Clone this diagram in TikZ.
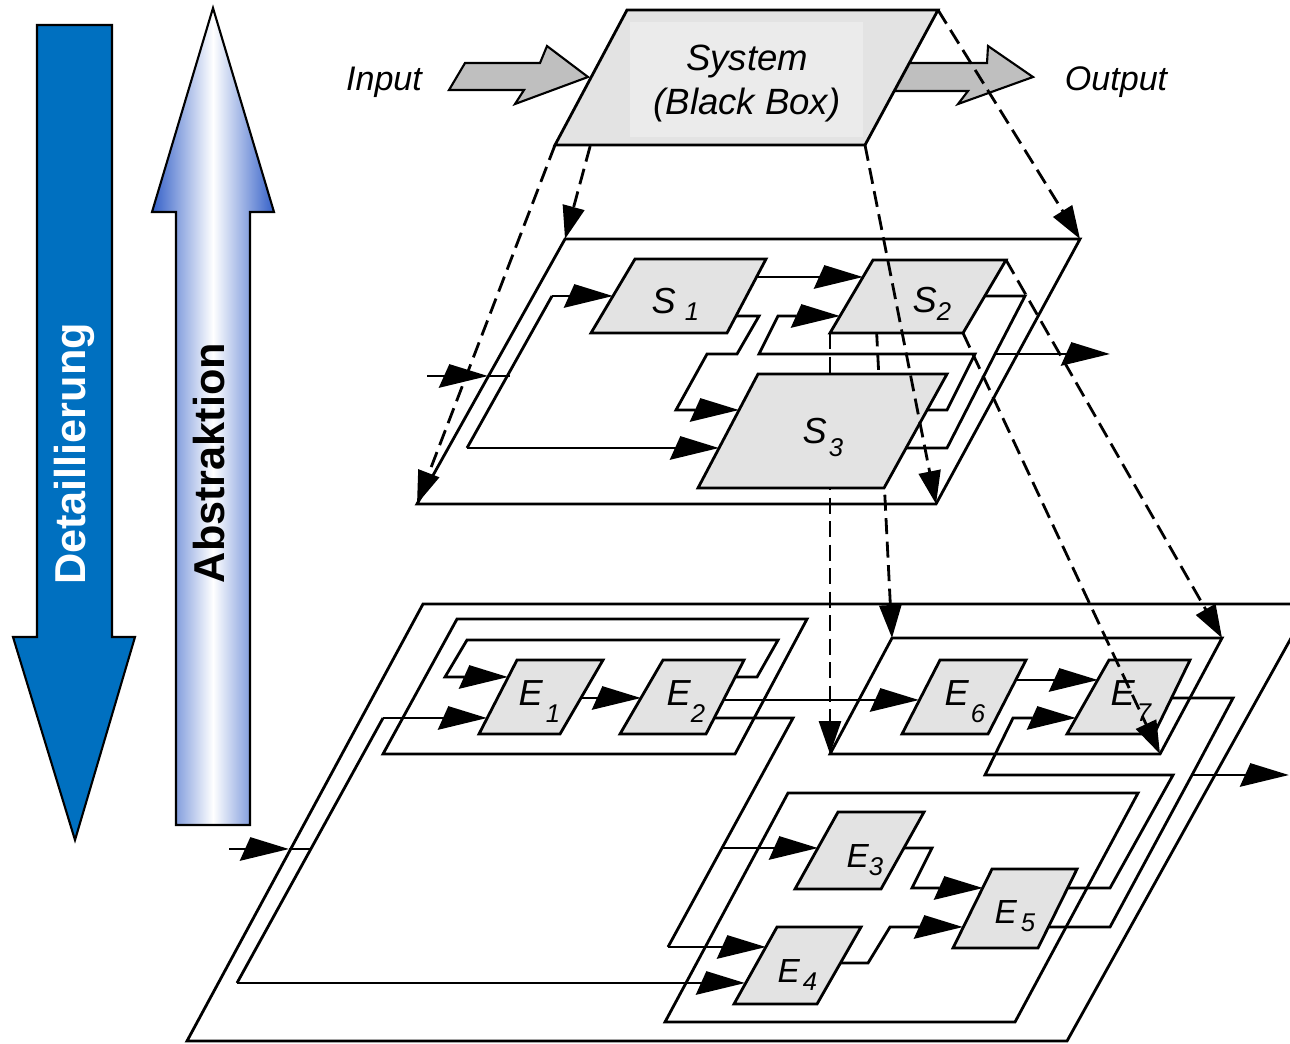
\documentclass[tikz,border=0pt]{standalone}
\usepackage{fontspec}
\setmainfont{Liberation Sans}
\usetikzlibrary{arrows.meta}

\definecolor{boxgray}{RGB}{227,227,227}
\definecolor{boxlight}{RGB}{235,235,235}
\definecolor{blockgray}{RGB}{191,191,191}
\definecolor{detblue}{RGB}{0,112,192}
\definecolor{absblue}{RGB}{52,96,200}

% letter with lowered index: letter, index, gap, drop
\newcommand{\blab}[4]{#1\hspace{#3}\raisebox{-#4}{\fontsize{7.3}{8}\selectfont #2}}

\tikzset{
  planeline/.style={draw, line width=0.8pt, line join=miter},
  blk/.style={draw, fill=boxgray, line width=0.8pt, line join=miter},
  wire/.style={line width=0.8pt, line join=miter},
  flow/.style={wire, -{Triangle[length=4.4mm,width=2.3mm,slant=0.45]}},
  proj/.style={line width=0.8pt, dash pattern=on 1.6mm off 0.75mm, -{Triangle[length=3.3mm,width=2.2mm]}},
  lbl/.style={inner sep=0pt, anchor=base west, font=\fontsize{10.3}{12}\selectfont\itshape},
  bigarrow/.style={draw, line width=0.6pt, line join=miter},
}

\begin{document}
\begin{tikzpicture}[x=0.1mm,y=-0.1mm]
\useasboundingbox (0,0) rectangle (1290,1043);

% Detaillierung / Abstraktion
\draw[bigarrow, fill=detblue] (37,25) -- (112,25) -- (112,637) -- (135,637) -- (75,840) -- (13,637) -- (37,637) -- cycle;
\node[rotate=90, text=white, font=\fontsize{12.3}{14}\selectfont\bfseries] (det) at (74,454) {Detaillierung};
\draw[bigarrow, left color=absblue, right color=absblue, middle color=white] (213,8) -- (274,212) -- (250,212) -- (250,825) -- (176,825) -- (176,212) -- (152,212) -- cycle;
\node[rotate=90, font=\fontsize{12.3}{14}\selectfont\bfseries] (abs) at (209,463) {Abstraktion};

% black box level
\draw[bigarrow, fill=blockgray] (465,63) -- (540,63) -- (547,46) -- (588,77) -- (515,104) -- (524,90) -- (449,90) -- cycle;
\draw[bigarrow, fill=blockgray] (905,63) -- (987,63) -- (988,46) -- (1033,77) -- (958,104) -- (968,91) -- (892,91) -- cycle;
\draw[proj] (627,10) -- (565,239);
\draw[blk] (627,10) -- (938,10) -- (865,145) -- (555,145) -- cycle;
\fill[boxlight] (630,22) rectangle (863,137);
\node[font=\fontsize{10.4}{12}\selectfont\itshape, anchor=base] (sysname) at (747,70) {System};
\node[font=\fontsize{10.4}{12}\selectfont\itshape, anchor=base] (bbox) at (747,114) {(Black Box)};
\node[font=\fontsize{9.7}{11}\selectfont\itshape, anchor=base] (inlbl) at (384,90) {Input};
\node[font=\fontsize{9.7}{11}\selectfont\itshape, anchor=base] (outlbl) at (1116,90) {Output};

% subsystem level
\draw[planeline] (565,239) -- (1080,239) -- (936,504) -- (417,504) -- cycle;
\coordinate (m-in) at (427,376);
\coordinate (m-edge) at (488,376);
\coordinate (m-j) at (510,376);
\coordinate (m-up) at (552,296);
\coordinate (m-dn) at (467,448);
\draw[flow] (m-in) -- (m-edge);
\draw[wire] (m-edge) -- (m-j);
\draw[wire] (m-up) -- (m-dn);
\draw[flow] (m-up) -- (613,296);
\draw[flow] (m-dn) -- (719,448);
\draw[flow] (756,277) -- (863,277);
\draw[flow] (736,316) -- (759,316) -- (737,354) -- (707,354) -- (676,410) -- (739,410);
\draw[flow] (927,410) -- (947,410) -- (975,354) -- (759,354) -- (778,316) -- (840,316);
\coordinate (m-out) at (995,354);
\draw[wire] (985,296) -- (1025,296) -- (m-out) -- (947,448) -- (906,448);
\draw[flow] (m-out) -- (1110,354);

\draw[proj] (873,260) -- (892,638);
\draw[proj] (830,333) -- (830,754);

\draw[blk] (635,259) -- (766,259) -- (727,333) -- (591,333) -- cycle;
\draw[blk] (873,260) -- (1006,260) -- (963,333) -- (830,333) -- cycle;
\draw[blk] (758,374) -- (947,374) -- (884,488) -- (698,488) -- cycle;
\node[lbl] (S1) at (651,313) {\blab{S}{1}{0.9mm}{0.7mm}};
\node[lbl] (S2) at (912,312) {\blab{S}{2}{0mm}{0.85mm}};
\node[lbl] (S3) at (802,443) {\blab{S}{3}{0.2mm}{1.35mm}};

\draw[proj] (555,145) -- (417,504);
\draw[proj] (938,10) -- (1080,239);
\draw[proj] (865,145) -- (936,504);
\draw[proj] (1006,260) -- (1222,638);

% element level
\draw[planeline] (423,604) -- (1310,604) -- (1067,1041) -- (187,1041) -- cycle;
\draw[planeline] (457,619) -- (807,619) -- (735,754) -- (383,754) -- cycle;
\draw[planeline] (892,638) -- (1222,638) -- (1160,754) -- (830,754) -- cycle;
\draw[planeline] (788,793) -- (1138,793) -- (1015,1022) -- (665,1022) -- cycle;

\coordinate (l-in) at (229,849);
\coordinate (l-edge) at (289,849);
\coordinate (l-j) at (311,849);
\coordinate (l-up) at (383,718);
\coordinate (l-dn) at (237,983);
\draw[flow] (l-in) -- (l-edge);
\draw[wire] (l-edge) -- (l-j);
\draw[wire] (l-up) -- (l-dn);
\draw[flow] (l-up) -- (487,718);
\draw[flow] (l-dn) -- (745,983);
\draw[flow] (735,677) -- (757,677) -- (778,640) -- (467,640) -- (445,677) -- (508,677);
\draw[flow] (581,698) -- (641,698);
\draw[flow] (723,700) -- (919,700);
\coordinate (e2-a) at (722,848);
\coordinate (e2-b) at (668,947);
\draw[wire] (714,718) -- (793,718) -- (e2-a) -- (e2-b);
\draw[flow] (e2-a) -- (818,848);
\draw[flow] (e2-b) -- (766,947);
\draw[flow] (1016,680) -- (1098,680);
\draw[flow] (1068,888) -- (1110,888) -- (1173,775) -- (985,775) -- (1013,718) -- (1076,718);
\coordinate (l-out) at (1192,775);
\draw[wire] (1171,698) -- (1233,698) -- (l-out) -- (1110,927) -- (1048,927);
\draw[flow] (l-out) -- (1289,775);
\draw[flow] (904,848) -- (932,848) -- (912,888) -- (983,888);
\draw[flow] (840,963) -- (868,963) -- (890,927) -- (963,927);

\draw[blk] (517,660) -- (603,660) -- (560,734) -- (479,734) -- cycle;
\draw[blk] (663,660) -- (744,660) -- (706,734) -- (620,734) -- cycle;
\draw[blk] (940,660) -- (1026,660) -- (988,734) -- (902,734) -- cycle;
\draw[blk] (1109,660) -- (1190,660) -- (1154,734) -- (1067,734) -- cycle;
\draw[blk] (838,812) -- (924,812) -- (881,889) -- (795,889) -- cycle;
\draw[blk] (777,927) -- (861,927) -- (817,1004) -- (734,1004) -- cycle;
\draw[blk] (992,869) -- (1077,869) -- (1038,948) -- (953,948) -- cycle;
\node[lbl] (E1) at (518,705) {\blab{E}{1}{0.3mm}{1.7mm}};
\node[lbl] (E2) at (666,705) {\blab{E}{2}{0mm}{1.7mm}};
\node[lbl] (E6) at (944,705) {\blab{E}{6}{0.2mm}{1.7mm}};
\node[lbl] (E7) at (1110,705) {\blab{E}{7}{0.2mm}{1.6mm}};
\node[lbl, font=\fontsize{9.5}{11}\selectfont\itshape] (E3) at (846,867) {\blab{E}{3}{0mm}{0.8mm}};
\node[lbl, font=\fontsize{9.5}{11}\selectfont\itshape] (E4) at (777,982) {\blab{E}{4}{0.3mm}{0.8mm}};
\node[lbl, font=\fontsize{9.5}{11}\selectfont\itshape] (E5) at (994,923) {\blab{E}{5}{0.4mm}{0.8mm}};

\draw[proj] (963,333) -- (1160,754);
\end{tikzpicture}
\end{document}
